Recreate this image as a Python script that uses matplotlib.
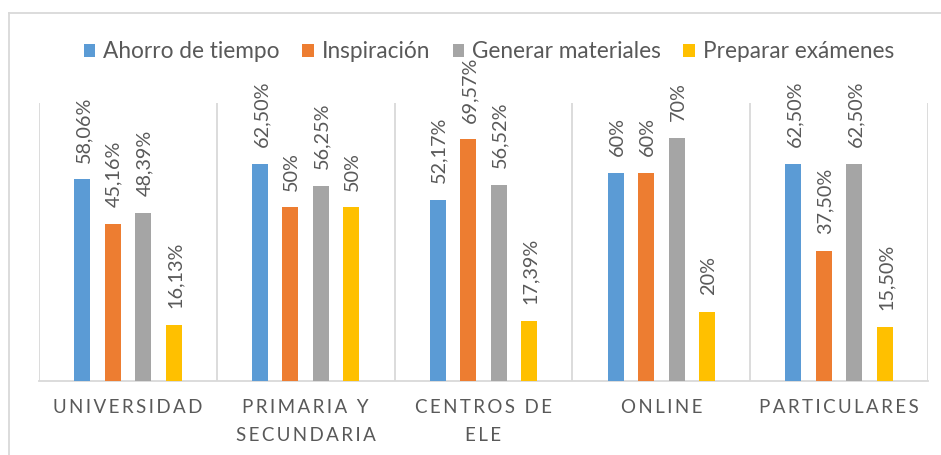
import matplotlib

matplotlib.use("Agg")
import matplotlib.pyplot as plt
import numpy as np
from matplotlib.lines import Line2D

categories = ["UNIVERSIDAD", "PRIMARIA Y\nSECUNDARIA", "CENTROS DE\nELE", "ONLINE", "PARTICULARES"]
series_names = ["Ahorro de tiempo", "Inspiración", "Generar materiales", "Preparar exámenes"]
ahorro = [58.06, 62.50, 52.17, 60, 62.50]
inspiracion = [45.16, 50, 69.57, 60, 37.50]
generar = [48.39, 56.25, 56.52, 70, 62.50]
preparar = [16.13, 50, 17.39, 20, 15.50]

colors = ["#5B9BD5", "#ED7D31", "#A5A5A5", "#FFC000"]
TEXT = "#595959"
LINE = "#D9D9D9"
FONT = ["Lato", "DejaVu Sans"]

plt.rcParams["font.family"] = FONT


def fmt(v):
    if float(v).is_integer():
        return f"{int(v)}%"
    return f"{v:.2f}%".replace(".", ",")


def spaced(s):
    # fake Excel's letter spacing with thin spaces
    return "\n".join("\u2009".join(line) for line in s.split("\n"))


fig = plt.figure(figsize=(9.41, 4.55), dpi=100)
ax = fig.add_axes([39 / 941, 1 - 381 / 455, (928 - 39) / 941, (381 - 103) / 455])

x = np.arange(len(categories))
step = 0.171
width = 0.09
all_series = [ahorro, inspiracion, generar, preparar]
for i, (vals, name, c) in enumerate(zip(all_series, series_names, colors)):
    pos = x + (i - 1.5) * step
    ax.bar(pos, vals, width=width, color=c, label=name, zorder=3)
    for px, v in zip(pos, vals):
        ax.annotate(fmt(v), (px, v), xytext=(1, 12), textcoords="offset points",
                    rotation=90, ha="center", va="bottom", fontsize=14.3, color=TEXT)

ax.set_xlim(-0.5, len(categories) - 0.5)
ax.set_ylim(0, 80)
ax.set_yticks([])
ax.set_xticks(x)
ax.set_xticklabels([spaced(c) for c in categories], fontsize=13.5, color=TEXT, linespacing=1.75)
ax.set_xticks(np.arange(len(categories) + 1) - 0.5, minor=True)
ax.tick_params(axis="x", which="both", length=0, pad=13)
ax.grid(which="minor", axis="x", color=LINE, linewidth=1.3, zorder=0)
for s in ["top", "left", "right"]:
    ax.spines[s].set_visible(False)
ax.spines["bottom"].set_color(LINE)
ax.spines["bottom"].set_linewidth(1.3)
ax.set_facecolor("none")

# outer chart frame (cropped at right and bottom)
fig.add_artist(Line2D([9 / 941, 1], [1 - 13 / 455, 1 - 13 / 455], color=LINE, linewidth=1.3))
fig.add_artist(Line2D([9 / 941, 9 / 941], [0, 1 - 13 / 455], color=LINE, linewidth=1.3))

fig.legend(loc="center", bbox_to_anchor=(489 / 941, 1 - 52 / 455), ncol=4, frameon=False,
           fontsize=16.3, handlelength=0.5, handleheight=0.5, handletextpad=0.35,
           columnspacing=1.0, labelcolor=TEXT)

fig.savefig("out.png", dpi=100)
